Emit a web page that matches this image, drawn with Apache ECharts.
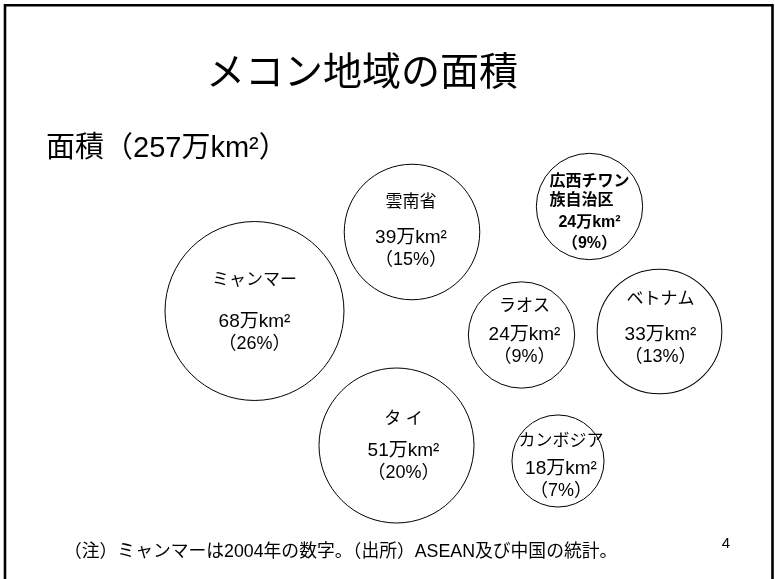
<!DOCTYPE html>
<html>
<head>
<meta charset="utf-8">
<script src="https://cdn.jsdelivr.net/npm/echarts@6/dist/echarts.min.js"></script>
<style>
html,body{margin:0;padding:0;background:#fff;}
#c{width:775px;height:579px;}
</style>
</head>
<body>
<div id="c"></div>
<script>
// ---- data ----
const names = ['ミャンマー', '雲南省', '広西チワン\n族自治区', 'ラオス', 'ベトナム', 'タ イ', 'カンボジア'];
const areas = [68, 39, 24, 24, 33, 51, 18];          // 万km²
const shares = [26, 15, 9, 9, 13, 20, 7];             // %
const totalArea = 257;
const titleText = 'メコン地域の面積';
const noteText = '（注）ミャンマーは2004年の数字。（出所）ASEAN及び中国の統計。';
const pageNo = '4';

// ---- layout (bubble centres in slide pixels) ----
const centerX = [254.5, 412, 589.5, 521.5, 659.5, 396.5, 558];
const centerY = [311, 232, 206.5, 335, 331.5, 445.5, 461];
const nameLineH = [62, 50, 19, 36, 50, 42, 34];
const labelOffset = [[0, -9], [-1, -8], [0, 6], [3, -7], [1, -10.5], [7, -4.5], [3, 2]];
const boldLabel = [false, false, true, false, false, false, false];

const FONT = "'Liberation Sans', 'Noto Sans CJK JP', sans-serif";
const JFONT = "'Noto Sans CJK JP', 'Liberation Sans', sans-serif";
const K = 21.7; // diameter per sqrt(万km²)

const data = names.map((n, i) => {
  const item = { name: n, value: [centerX[i], centerY[i], areas[i]] };
  if (boldLabel[i]) {
    const parts = n.split('\n');
    item.label = {
      offset: labelOffset[i],
      formatter: parts.map(p => '{a|' + p + '}').join('\n') +
        '\n{b|' + areas[i] + '万km²}\n{c|（' + shares[i] + '%）}',
      rich: {
        a: { fontSize: 16, fontWeight: 'bold', lineHeight: 19, align: 'left', fontFamily: FONT, color: '#000' },
        b: { fontSize: 16, fontWeight: 'bold', lineHeight: 24, align: 'center', fontFamily: FONT, color: '#000' },
        c: { fontSize: 16, fontWeight: 'bold', lineHeight: 18, align: 'center', fontFamily: FONT, color: '#000' }
      }
    };
  } else {
    item.label = {
      offset: labelOffset[i],
      formatter: '{n|' + n + '}\n{v|' + areas[i] + '万km²}\n{p|（' + shares[i] + '%）}',
      rich: {
        n: { fontSize: 17, lineHeight: nameLineH[i], fontFamily: FONT, color: '#000' },
        v: { fontSize: 19, lineHeight: 22, fontFamily: FONT, color: '#000' },
        p: { fontSize: 18, lineHeight: 22, fontFamily: FONT, color: '#000' }
      }
    };
  }
  return item;
});

const chart = echarts.init(document.getElementById('c'), null, { renderer: 'canvas' });
chart.setOption({
  backgroundColor: '#fff',
  animation: false,
  grid: { left: 0, right: 0, top: 0, bottom: 0 },
  xAxis: { type: 'value', min: 0, max: 775, show: false },
  yAxis: { type: 'value', min: 0, max: 579, inverse: true, show: false },
  series: [{
    type: 'scatter',
    data: data,
    symbol: 'circle',
    symbolSize: v => K * Math.sqrt(v[2]),
    itemStyle: { color: '#fff', borderColor: '#000', borderWidth: 1, opacity: 1 },
    label: { show: true, position: 'inside', align: 'center', verticalAlign: 'middle', color: '#000' },
    emphasis: { disabled: true }
  }],
  graphic: [
    { type: 'rect', silent: true, z: 100,
      shape: { x: 5, y: 5.3, width: 767.5, height: 640 },
      style: { fill: 'none', stroke: '#000', lineWidth: 2.6 } },
    { type: 'text', x: 362, y: 70, z: 100,
      style: { text: titleText, font: '39px ' + JFONT, fill: '#000', textAlign: 'center', textVerticalAlign: 'middle' } },
    { type: 'text', x: 46, y: 149, z: 100,
      style: { text: '面積（' + totalArea + '万km²）', font: '29px ' + FONT, fill: '#000', textAlign: 'left', textVerticalAlign: 'middle' } },
    { type: 'text', x: 64, y: 552, z: 100,
      style: { text: noteText, font: '17.8px ' + FONT, fill: '#000', textAlign: 'left', textVerticalAlign: 'middle' } },
    { type: 'text', x: 726, y: 544, z: 100,
      style: { text: pageNo, font: '15px ' + FONT, fill: '#000', textAlign: 'center', textVerticalAlign: 'middle' } }
  ]
});
</script>
</body>
</html>
